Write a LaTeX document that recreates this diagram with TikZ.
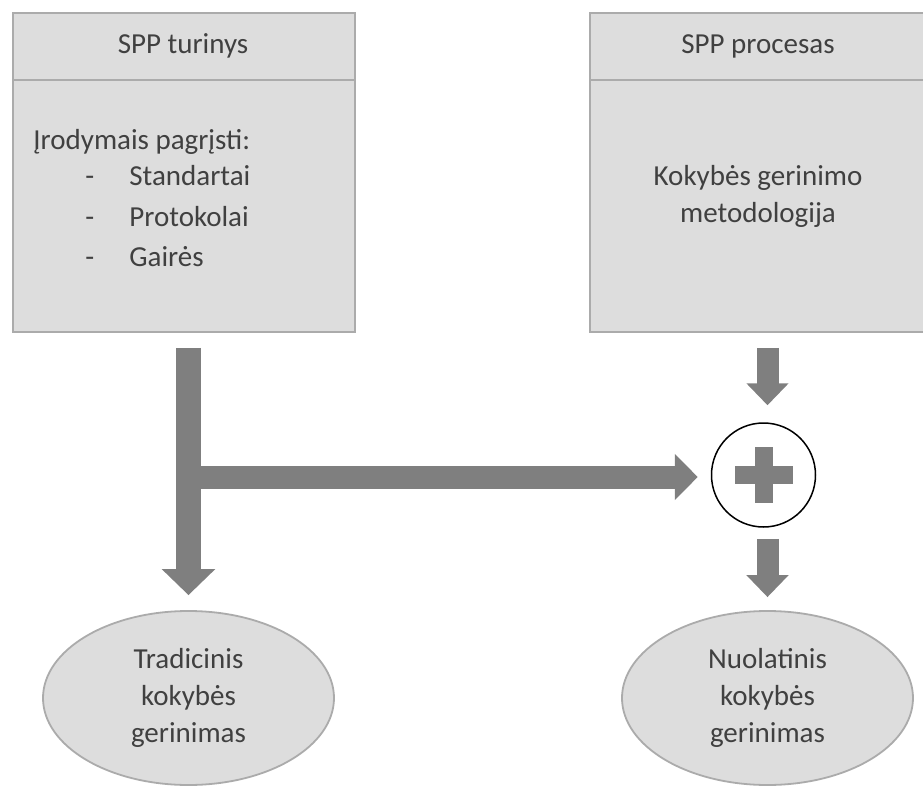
\documentclass[tikz,border=0pt]{standalone}
\usepackage{fontspec}
\setmainfont{Carlito}
\usepackage{tikz}
\usetikzlibrary{calc}
\usetikzlibrary{arrows.meta}
\usetikzlibrary{shapes.geometric}
\definecolor{boxfill}{HTML}{DDDDDD}
\definecolor{boxline}{HTML}{ABABAB}
\definecolor{arrowgray}{HTML}{7F7F7F}
\definecolor{txtgray}{HTML}{404040}

\begin{document}
\begin{tikzpicture}[x=0.5pt, y=-0.5pt,
  font=\fontsize{14.5}{18.5}\selectfont, text=txtgray,
  sppbox/.style={rectangle, draw=boxline, fill=boxfill, line width=0.9pt, inner sep=0pt, anchor=north west},
  result/.style={ellipse, draw=boxline, fill=boxfill, line width=0.9pt, minimum width=145.5pt, minimum height=87pt, inner sep=0pt, align=center},
  bigarrow/.style={draw=arrowgray, line width=12.5pt, -{Triangle[width=26pt, length=13pt]}},
  sidearrow/.style={draw=arrowgray, line width=11.5pt, -{Triangle[width=22.5pt, length=11.5pt]}},
  smallarrow/.style={draw=arrowgray, line width=11pt, -{Triangle[width=20.5pt, length=11pt]}}]
 \useasboundingbox (0,0) rectangle (923,787);
 % the two boxes
 \node [sppbox, minimum width=171pt, minimum height=159.5pt] (Tur) at (12,12) {};
 \node [sppbox, minimum width=169pt, minimum height=159.5pt] (Proc) at (589,12) {};
 \draw [boxline, line width=0.9pt] (Tur.west |- 0,80) -- (Tur.east |- 0,80);
 \draw [boxline, line width=0.9pt] (Proc.west |- 0,80) -- (Proc.east |- 0,80);
 \node (TurHead) at (183,46) {SPP turinys};
 \node (ProcHead) at (758,46) {SPP procesas};
 \node [anchor=north west, align=left, inner sep=0pt] (TurBody) at (33,129)
  {Įrodymais pagrįsti:\\[-0.5pt]
   \hspace*{26pt}\makebox[22pt][l]{-}Standartai\\[2pt]
   \hspace*{26pt}\makebox[22pt][l]{-}Protokolai\\[1.5pt]
   \hspace*{26pt}\makebox[22pt][l]{-}Gairės};
 \node [align=center] (ProcBody) at (758,196) {Kokybės gerinimo\\metodologija};
 % plus sign
 \node [circle, draw=black, fill=white, line width=0.75pt, minimum size=52pt, inner sep=0pt] (Plus) at (763.5,475) {};
 \fill [arrowgray] ($(Plus)+(-29,-9)$) rectangle ++(58,18);
 \fill [arrowgray] ($(Plus)+(-9,-28)$) rectangle ++(18,56);
 % results
 \node [result] (Trad) at (188.5,698) {Tradicinis\\kokybės\\gerinimas};
 \node [result] (Nuol) at (767.5,698) {Nuolatinis\\kokybės\\gerinimas};
 % arrows
 \draw [bigarrow] ($(Tur.south -| Trad)+(0,15)$) to ($(Trad.north)+(0,-15)$);
 \draw [sidearrow] ($(Trad |- Plus)+(1,2)$) to ($(Plus.west)+(-13,2)$);
 \draw [smallarrow] ($(Proc.south -| Nuol)+(0,15)$) to ($(Plus.north -| Nuol)+(0,-17)$);
 \draw [smallarrow] ($(Plus.south -| Nuol)+(0,11)$) to ($(Nuol.north)+(0,-13)$);
\end{tikzpicture}
\end{document}
